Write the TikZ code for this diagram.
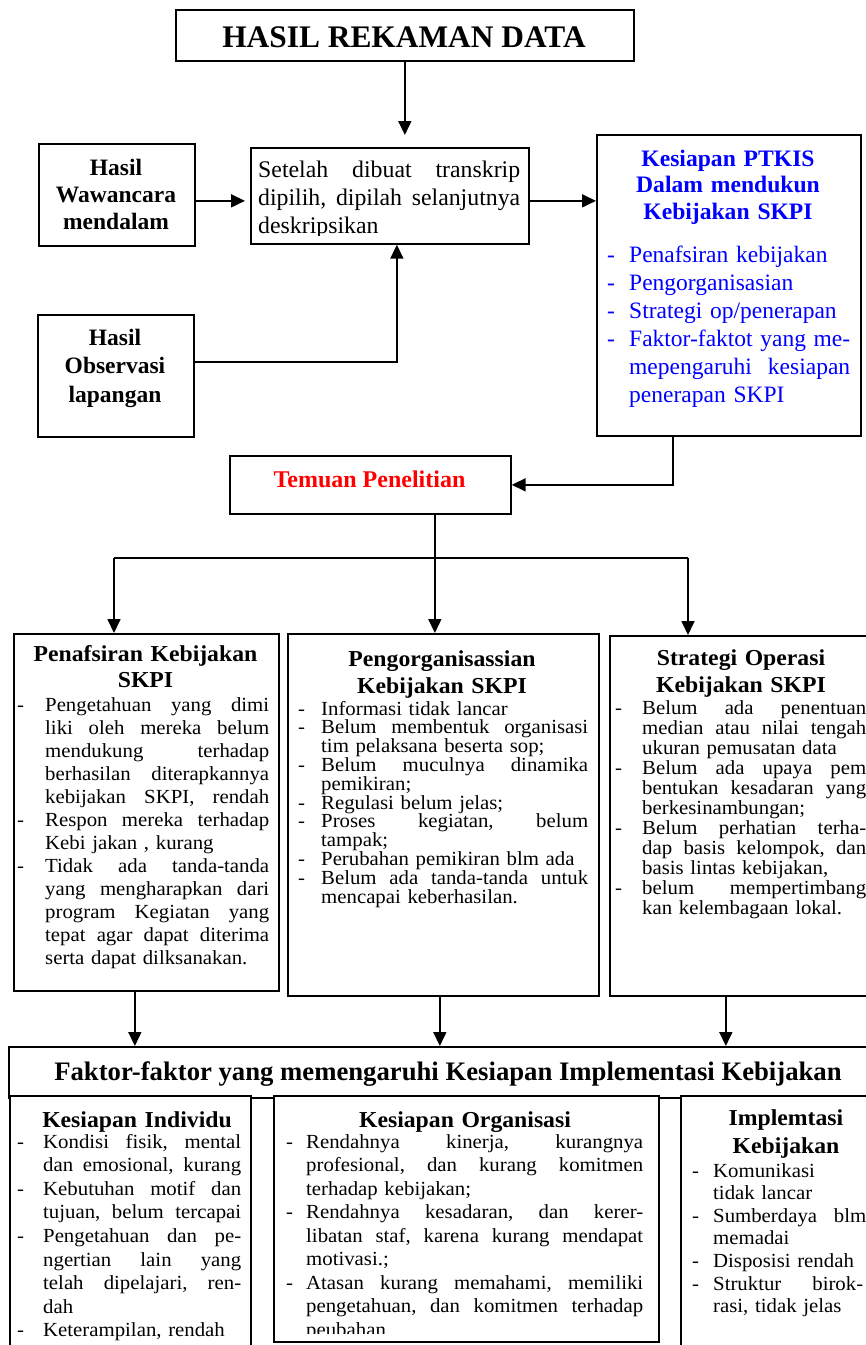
\documentclass[tikz,border=0pt]{standalone}
\usepackage{fontspec}
\setmainfont{Liberation Serif}
\newfontfamily\wf{Liberation Serif}[FakeStretch=1.04]
\usetikzlibrary{arrows.meta,calc}
\definecolor{tblue}{RGB}{0,0,255}
\definecolor{tred}{RGB}{255,0,0}
\newcommand\fs[2]{\fontsize{#1pt}{#2pt}\selectfont}
\newcommand\J[2]{\leavevmode\hbox to #1pt{\frenchspacing\spaceskip=0.25em plus 1fil\relax #2}}
\newlength\dashw
\newcommand\di{\leavevmode\makebox[\dashw][l]{-}}
\newcommand\ci{\leavevmode\hspace*{\dashw}}
\begin{document}
\begin{tikzpicture}[x=1pt,y=-1pt,
  box/.style={draw, line width=1.7pt, fill=white, inner sep=0pt, anchor=north west},
  arr/.style={line width=1.7pt, -{Triangle[length=14pt,width=13pt]}},
  ln/.style={line width=1.7pt},
  lst/.style={inner sep=0pt, anchor=base west, align=left},
  ttl/.style={inner sep=0pt, anchor=base, align=center},
]
\useasboundingbox (0,0) rectangle (866,1345);
\clip (0,0) rectangle (866,1345);

% ---------- top part ----------
\node[box, minimum width=458pt, minimum height=51pt] (hasil) at (175,9) {};
\node[ttl, font=\bfseries\fs{31.4}{36}] (hasilT) at (404,47) {HASIL REKAMAN DATA};

\node[box, minimum width=156pt, minimum height=102pt] (waw) at (38,143) {};
\node[ttl, text width=150pt, font=\bfseries\fs{23.5}{27}] (wawT) at (116,175) {Hasil\\Wawancara\\mendalam};

\node[box, minimum width=278pt, minimum height=96pt] (setelah) at (250,147) {};
\begin{scope}
\clip (250,147) rectangle (528,235);
\node[lst, text width=266pt, font=\fs{23.8}{28}] (setT) at (258,177)
 {\J{262}{Setelah dibuat transkrip}\\\J{262}{dipilih, dipilah selanjutnya}\\deskripsikan};
\end{scope}

\node[box, minimum width=264pt, minimum height=301pt] (kes) at (596,134) {};
\node[ttl, text width=250pt, font=\bfseries\fs{23.6}{26.8}, text=tblue] (kesT) at (728,166)
 {Kesiapan PTKIS\\Dalam mendukun\\Kebijakan SKPI};
\node[lst, text width=247pt, font=\fs{23.5}{28}, text=tblue] (kesL) at (607,262.5)
 {\setlength\dashw{22pt}\di Penafsiran kebijakan\\
  \di Pengorganisasian\\
  \di Strategi op/penerapan\\
  \di\J{221}{Faktor-faktot yang me-}\\
  \ci\J{221}{mepengaruhi kesiapan}\\
  \ci penerapan SKPI};

\node[box, minimum width=156pt, minimum height=122pt] (obs) at (37,314) {};
\node[ttl, text width=150pt, font=\bfseries\fs{23.5}{28.5}] (obsT) at (115,345) {Hasil\\Observasi\\lapangan};

\node[box, minimum width=281pt, minimum height=58pt] (temuan) at (229,455) {};
\node[ttl, font=\bfseries\fs{24}{28}, text=tred] (temT) at (369.5,487) {Temuan Penelitian};

% connectors top
\draw[arr, shorten >=12pt] (hasil.south) -- (hasil.south |- setelah.north);
\draw[arr, shorten >=5pt] ([yshift=-6pt]waw.east) -- ([yshift=-6pt]waw.east -| setelah.west);
\draw[arr] ([yshift=-5pt]setelah.east) -- ([yshift=-5pt]setelah.east -| kes.west);
\draw[arr] ([yshift=14pt]obs.east) -| ([xshift=7pt]setelah.south);
\draw[arr] ([xshift=-56pt]kes.south) |- (temuan.east);

% ---------- middle row ----------
\node[box, minimum width=265pt, minimum height=357pt] (pen) at (13,633) {};
\node[box, minimum width=311pt, minimum height=362pt] (peng) at (287,633) {};
\node[box, minimum width=270pt, minimum height=360pt] (str) at (609,635) {};

\coordinate (jl) at (114,558);
\coordinate (jr) at (688,558);
\draw[ln] (jl) -- (jr);
\draw[arr] (jl) -- (jl |- pen.north);
\draw[arr] (jr) -- (jr |- str.north);
\draw[arr] ([xshift=64.5pt]temuan.south) -- ([xshift=64.5pt]temuan.south |- peng.north);

\node[ttl, text width=260pt, font=\wf\bfseries\fs{22.8}{26}] (penH) at (145.5,661) {Penafsiran Kebijakan\\SKPI};
\node[lst, text width=256pt, font=\wf\fs{20}{23}] (penL) at (17,711)
 {\setlength\dashw{28pt}\di\J{224}{Pengetahuan yang dimi}\\
  \ci\J{224}{liki oleh mereka belum}\\
  \ci\J{224}{mendukung terhadap}\\
  \ci\J{224}{berhasilan diterapkannya}\\
  \ci\J{224}{kebijakan SKPI, rendah}\\
  \di\J{224}{Respon mereka terhadap}\\
  \ci Kebi jakan , kurang\\
  \di\J{224}{Tidak ada tanda-tanda}\\
  \ci\J{224}{yang mengharapkan dari}\\
  \ci\J{224}{program Kegiatan yang}\\
  \ci\J{224}{tepat agar dapat diterima}\\
  \ci serta dapat dilksanakan.};

\node[ttl, text width=300pt, font=\wf\bfseries\fs{22.8}{27}] (pengH) at (442,666) {Pengorganisassian\\Kebijakan SKPI};
\node[lst, text width=294pt, font=\wf\fs{20}{18.8}] (pengL) at (298,715)
 {\setlength\dashw{23pt}\di Informasi tidak lancar\\
  \di\J{267}{Belum membentuk organisasi}\\
  \ci tim pelaksana beserta sop;\\
  \di\J{267}{Belum muculnya dinamika}\\
  \ci pemikiran;\\
  \di Regulasi belum jelas;\\
  \di\J{267}{Proses kegiatan, belum}\\
  \ci tampak;\\
  \di Perubahan pemikiran blm ada\\
  \di\J{267}{Belum ada tanda-tanda untuk}\\
  \ci mencapai keberhasilan.};

\node[ttl, text width=260pt, font=\wf\bfseries\fs{22.8}{27.5}] (strH) at (741,665) {Strategi Operasi\\Kebijakan SKPI};
\node[lst, text width=256pt, font=\wf\fs{20}{20}] (strL) at (615,714)
 {\setlength\dashw{27pt}\di\J{224}{Belum ada penentuan}\\
  \ci\J{224}{median atau nilai tengah}\\
  \ci ukuran pemusatan data\\
  \di\J{224}{Belum ada upaya pem}\\
  \ci\J{224}{bentukan kesadaran yang}\\
  \ci berkesinambungan;\\
  \di\J{224}{Belum perhatian terha-}\\
  \ci\J{224}{dap basis kelompok, dan}\\
  \ci basis lintas kebijakan,\\
  \di\J{224}{belum mempertimbang}\\
  \ci kan kelembagaan lokal.};

% ---------- bottom part ----------
\node[box, minimum width=872pt, minimum height=51pt] (fak) at (8,1046) {};
\node[ttl, font=\bfseries\fs{26.7}{30}] (fakT) at (448,1080) {Faktor-faktor yang memengaruhi Kesiapan Implementasi Kebijakan};

\draw[arr] ([xshift=-11.5pt]pen.south) -- ([xshift=-11.5pt]pen.south |- fak.north);
\draw[arr] ([xshift=-3.5pt]peng.south) -- ([xshift=-3.5pt]peng.south |- fak.north);
\draw[arr] ([xshift=-19pt]str.south) -- ([xshift=-19pt]str.south |- fak.north);

\node[box, minimum width=241pt, minimum height=270pt] (ind) at (9,1095) {};
\node[box, minimum width=385pt, minimum height=246pt] (org) at (273,1095) {};
\node[box, minimum width=200pt, minimum height=270pt] (imp) at (680,1095) {};

\node[ttl, text width=230pt, font=\wf\bfseries\fs{22.8}{27}] (indH) at (137,1127) {Kesiapan Individu};
\node[lst, text width=230pt, font=\wf\fs{20}{23.6}] (indL) at (17,1148)
 {\setlength\dashw{26pt}\di\J{198}{Kondisi fisik, mental}\\
  \ci\J{198}{dan emosional, kurang}\\
  \di\J{198}{Kebutuhan motif dan}\\
  \ci\J{198}{tujuan, belum tercapai}\\
  \di\J{198}{Pengetahuan dan pe-}\\
  \ci\J{198}{ngertian lain yang}\\
  \ci\J{198}{telah dipelajari, ren-}\\
  \ci dah\\
  \di Keterampilan, rendah};

\node[ttl, text width=370pt, font=\wf\bfseries\fs{22.8}{27}] (orgH) at (465,1127) {Kesiapan Organisasi};
\begin{scope}
\clip (273,1095) rectangle (658,1333);
\node[lst, text width=362pt, font=\wf\fs{20}{23.5}] (orgL) at (286,1148)
 {\setlength\dashw{20pt}\di\J{337}{Rendahnya kinerja, kurangnya}\\
  \ci\J{337}{profesional, dan kurang komitmen}\\
  \ci terhadap kebijakan;\\
  \di\J{337}{Rendahnya kesadaran, dan kerer-}\\
  \ci\J{337}{libatan staf, karena kurang mendapat}\\
  \ci motivasi.;\\
  \di\J{337}{Atasan kurang memahami, memiliki}\\
  \ci\J{337}{pengetahuan, dan komitmen terhadap}\\
  \ci peubahan.};
\end{scope}

\node[ttl, text width=190pt, font=\wf\bfseries\fs{22.8}{28}] (impH) at (786,1125) {Implemtasi\\Kebijakan};
\node[lst, text width=180pt, font=\wf\fs{20}{22.6}] (impL) at (692,1177)
 {\setlength\dashw{21pt}\di Komunikasi\\
  \ci tidak lancar\\
  \di\J{153}{Sumberdaya blm}\\
  \ci memadai\\
  \di Disposisi rendah\\
  \di\J{150}{Struktur birok-}\\
  \ci rasi, tidak jelas};
\end{tikzpicture}
\end{document}
